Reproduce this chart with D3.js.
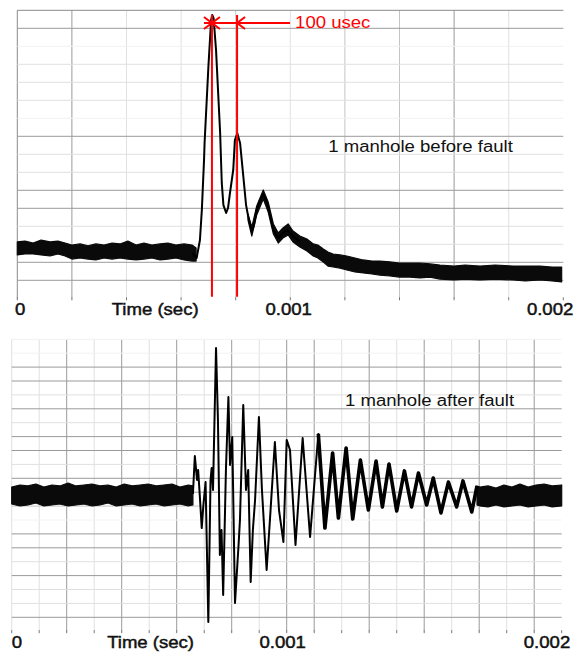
<!DOCTYPE html>
<html><head><meta charset="utf-8">
<script src="https://cdn.jsdelivr.net/npm/d3@7"></script>
<style>html,body{margin:0;padding:0;background:#fff}svg{display:block}</style>
</head><body>
<svg id="chart" width="578" height="652"></svg>
<script>
// ---------- data (time in microseconds, amplitude in grid divisions) ----------
const timeTicks = [0, 1000, 2000];
const timeTickLabels = ["0", "0.001", "0.002"];
const xTitle = "Time (sec)";
const topTitle = "1 manhole before fault";
const bottomTitle = "1 manhole after fault";
const markerTimes = [713, 805];
const markerLabel = "100 usec";

// top: pre-trigger noise band [t, low, high]
const topNoiseBefore = [
  [0,2.41,3.13],[28,2.46,3.18],[58,2.46,3.07],[87,2.41,3.24],[120,2.35,3.13],[149,2.46,3.18],
  [175,2.35,3.07],[200,2.18,2.96],[230,2.24,3.02],[259,2.18,2.91],[288,2.13,3.02],[318,2.24,2.96],
  [347,2.18,3.07],[376,2.24,3.02],[405,2.18,3.18],[435,2.13,2.96],[464,2.18,3.07],[493,2.24,2.96],
  [523,2.13,3.02],[552,2.18,3.07],[581,2.24,2.96],[611,2.13,3.02],[640,2.07,2.96],[655,2.07,2.79]
];
// top: main pulse [t, value]
const topPulse = [
  [640,2.52],[657,2.24],[669,3.24],[676,4.91],[684,7.68],[686,8.63],[700,12.87],[710,15.46],
  [714,15.74],[719,15.57],[728,13.79],[743,9.18],[749,6.41],[755,5.18],[765,4.74],[772,5.02],
  [779,5.85],[791,7.13],[797,8.79],[806,9.17],[816,8.63],[828,6.76],[838,5.18],[846,4.53],
  [859,3.70],[867,4.07],[877,4.91],[889,5.46],[901,5.79],[911,5.46],[919,5.09],[938,3.79],
  [956,3.33],[973,3.63],[988,3.79],[1011,3.42],[1036,3.14]
];
// top: decaying noisy tail band [t, low, high]
const topNoiseAfter = [
  [845,4.35,4.68],[859,3.46,3.96],[877,4.63,5.13],[901,5.52,6.02],[919,4.79,5.35],[938,3.57,4.13],
  [956,3.07,3.63],[973,3.35,3.91],[992,3.52,4.13],[1010,3.13,3.74],[1035,2.85,3.46],[1061,2.63,3.29],
  [1084,2.35,3.02],[1101,2.24,2.96],[1121,2.02,2.74],[1138,1.79,2.57],[1157,1.74,2.46],[1182,1.68,2.41],
  [1207,1.57,2.35],[1237,1.46,2.24],[1267,1.41,2.13],[1299,1.35,2.07],[1328,1.29,2.07],[1365,1.24,2.02],
  [1399,1.18,1.96],[1438,1.18,1.96],[1475,1.13,1.96],[1512,1.18,1.91],[1548,1.07,1.85],[1600,1.02,1.79],
  [1640,1.07,1.85],[1695,1.02,1.79],[1750,1.07,1.85],[1817,1.02,1.79],[1860,0.96,1.79],[1915,1.02,1.79],
  [1959,0.96,1.74],[1994,0.91,1.74]
];

// bottom: pre-trigger noise band
const botNoiseBefore = [
  [0,9.15,10.37],[30,9.01,10.52],[59,9.08,10.45],[88,9.22,10.59],[117,9.01,10.37],[146,9.08,10.52],
  [175,9.15,10.45],[205,9.01,10.66],[234,9.08,10.45],[263,9.15,10.52],[292,9.01,10.59],[321,9.08,10.45],
  [350,9.22,10.52],[380,9.01,10.37],[409,9.08,10.59],[438,9.15,10.45],[467,9.01,10.52],[496,9.08,10.59],
  [525,9.15,10.45],[554,9.01,10.52],[583,9.08,10.59],[612,9.15,10.37],[642,9.01,10.52],[659,9.08,10.45]
];
// bottom: ringing oscillation
const botRinging = [
  [659,9.87],[666,12.60],[674,10.88],[678,11.60],[685,9.44],[691,7.42],[697,9.08],[705,10.73],
  [715,0.66],[723,10.88],[727,11.74],[732,10.16],[743,20.37],[750,15.19],[757,5.48],[763,7.28],
  [769,2.61],[779,11.60],[788,16.85],[794,11.96],[802,13.97],[812,2.03],[825,6.22],[830,8.00],
  [842,16.27],[852,10.16],[860,11.60],[869,3.54],[877,7.28],[885,9.44],[899,15.41],[910,10.16],
  [927,4.40],[939,8.00],[957,13.61],[972,8.72],[988,6.42],[1000,13.76],[1012,13.04],[1032,6.20],
  [1058,13.90],[1085,6.78],[1115,14.19],[1139,7.42],[1167,12.82],[1188,8.14],[1216,13.18],[1240,8.07],
  [1268,12.32],[1297,8.72],[1325,12.24],[1348,8.94],[1372,12.03],[1400,8.65],[1428,11.53],[1454,8.94],
  [1479,11.38],[1509,9.08],[1533,11.02],[1561,8.51],[1588,10.73],[1618,8.94],[1641,10.81],[1673,8.58],
  [1692,10.45]
];
// bottom: tail noise band
const botNoiseAfter = [
  [1692,9.08,10.45],[1703,9.01,10.37],[1732,8.94,10.45],[1761,9.08,10.30],[1790,8.94,10.52],
  [1819,9.01,10.37],[1848,9.08,10.59],[1878,8.94,10.37],[1907,9.01,10.52],[1936,9.08,10.59],
  [1965,8.94,10.45],[2000,9.01,10.52]
];

// ---------- drawing ----------
const svg = d3.select("#chart");
const FONT = "'Liberation Sans', Arial, Helvetica, sans-serif";
const STRETCH = 1.16;

function stretchedText(g, x, y, txt, anchor, fill, bold) {
  const t = g.append("text")
    .attr("transform", `translate(${x},${y}) scale(${STRETCH},1)`)
    .attr("text-anchor", anchor)
    .attr("font-family", FONT).attr("font-size", 16)
    .attr("fill", fill || "#111").text(txt);
  if (bold) t.attr("stroke", fill || "#111").attr("stroke-width", 0.45);
  return t;
}

function panel(opt) {
  const g = svg.append("g");
  const x = d3.scaleLinear().domain([0, 2000]).range([opt.left, opt.right]);
  const y = d3.scaleLinear().domain([0, opt.rows]).range([opt.bottom, opt.top]);

  const vStep = opt.vStep;
  d3.range(0, 2000 + 1e-6, vStep).forEach((t, k) => {
    const c = opt.vShade(k);
    if (!c) return;
    g.append("line").attr("x1", x(t)).attr("x2", x(t))
      .attr("y1", opt.top).attr("y2", opt.bottom)
      .attr("stroke", c).attr("stroke-width", 1);
  });
  d3.range(0, opt.rows + 1).forEach(r => {
    const c = opt.hShade(opt.rows - r);
    if (!c) return;
    g.append("line").attr("x1", opt.left).attr("x2", opt.right)
      .attr("y1", y(r)).attr("y2", y(r))
      .attr("stroke", c).attr("stroke-width", 1);
  });
  d3.range(0, 2000 + 1e-6, vStep).forEach(t => {
    g.append("line").attr("x1", x(t)).attr("x2", x(t))
      .attr("y1", opt.bottom - 1).attr("y2", opt.bottom + 2)
      .attr("stroke", "#777").attr("stroke-width", 1);
  });

  const area = d3.area().x(d => x(d[0])).y0(d => y(d[1])).y1(d => y(d[2]));
  const line = d3.line().x(d => x(d[0])).y(d => y(d[1]));

  opt.bands.forEach(b => {
    g.append("path").datum(b).attr("d", area)
      .attr("fill", "#0a0a0a").attr("stroke", "#0a0a0a").attr("stroke-width", 1.2)
      .attr("stroke-linejoin", "round");
  });
  opt.lines.forEach(l => {
    g.append("path").datum(l.data.filter(d => d[0] >= l.from && d[0] <= l.to)).attr("d", line)
      .attr("fill", "none").attr("stroke", "#000").attr("stroke-width", l.w)
      .attr("stroke-linejoin", "round");
  });

  const ly = opt.bottom + 16.7;
  stretchedText(g, x(timeTicks[0]) + opt.zeroDx, ly, timeTickLabels[0], "start", null, true);
  stretchedText(g, x(timeTicks[1]) + opt.midDx, ly, timeTickLabels[1], "middle", null, true);
  stretchedText(g, x(timeTicks[2]) + opt.endDx, ly, timeTickLabels[2], "end", null, true);
  stretchedText(g, x(505), ly, xTitle, "middle", null, true);
  stretchedText(g, x(opt.titlePos[0]), y(opt.titlePos[1]), opt.title, "start");
  return {g, x, y};
}

const DARK = "#9a9a9a", MID = "#c4c4c4", LIGHT = "#e0e0e0", FAINT = "#f2f2f2";

// top panel
const topShadeV = [ "#8a8a8a", DARK, LIGHT, LIGHT, MID, LIGHT, MID, MID, DARK, LIGHT, null ];
const topShadeH = [ "#8a8a8a", DARK, FAINT, LIGHT, LIGHT, LIGHT, FAINT, DARK, LIGHT, LIGHT, DARK, DARK, LIGHT, LIGHT, DARK, DARK, null ];
const P1 = panel({
  left: 17.3, right: 563.3, top: 10.3, bottom: 298.3, rows: 16, vStep: 200,
  vShade: k => topShadeV[k], hShade: i => topShadeH[i],
  bands: [topNoiseBefore, topNoiseAfter],
  lines: [{data: topPulse, w: 2, from: 0, to: 2000}],
  zeroDx: -2.3, midDx: -1.6, endDx: 10,
  title: topTitle, titlePos: [1139, 8.13]
});

// red 100 usec annotation
(function () {
  const {g, x, y} = P1;
  const xa = x(markerTimes[0]), xb = x(markerTimes[1]);
  const top = y.range()[1];
  const ay = top + 12.7;
  markerTimes.forEach(t => {
    g.append("line").attr("x1", x(t)).attr("x2", x(t))
      .attr("y1", top + 4.7).attr("y2", y(0) - 1.6)
      .attr("stroke", "#ff0000").attr("stroke-width", 2);
  });
  g.append("line").attr("x1", xa - 8).attr("x2", xb + 53).attr("y1", ay).attr("y2", ay)
    .attr("stroke", "#ff0000").attr("stroke-width", 2);
  const head = [
    [[xa - 8, ay - 6], [xa, ay], [xa - 8, ay + 6]],
    [[xa + 8, ay - 6], [xa, ay], [xa + 8, ay + 6]],
    [[xb + 8, ay - 6], [xb, ay], [xb + 8, ay + 6]]
  ];
  head.forEach(h => g.append("path").attr("d", d3.line()(h))
    .attr("fill", "none").attr("stroke", "#ff0000").attr("stroke-width", 2));
  stretchedText(g, xb + 58, top + 17.7, markerLabel, "start", "#ff0000");
})();

// bottom panel
const botShadeV = [ LIGHT, LIGHT, DARK, LIGHT, DARK, LIGHT, DARK, LIGHT, DARK, LIGHT, DARK,
                    DARK, LIGHT, DARK, LIGHT, DARK, LIGHT, DARK, LIGHT, DARK, null ];
const botShadeH = [ FAINT, FAINT, DARK, DARK, LIGHT, DARK, LIGHT, DARK, DARK, LIGHT, DARK,
                    DARK, MID, FAINT, DARK, DARK, LIGHT, DARK, LIGHT, LIGHT, DARK, null ];
panel({
  left: 11.7, right: 561.7, top: 339.3, bottom: 631.2, rows: 21, vStep: 100,
  vShade: k => botShadeV[k], hShade: i => botShadeH[i],
  bands: [botNoiseBefore, botNoiseAfter],
  lines: [{data: botRinging, w: 2, from: 0, to: 2000},
          {data: botRinging, w: 3.6, from: 1100, to: 2000}],
  zeroDx: 0, midDx: -4, endDx: 8.5,
  title: bottomTitle, titlePos: [1212, 16.2]
});
</script>
</body></html>
